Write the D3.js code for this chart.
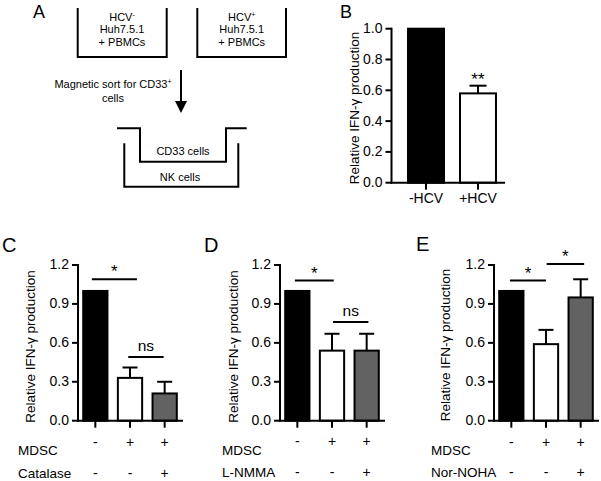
<!DOCTYPE html>
<html><head><meta charset="utf-8">
<script src="https://cdn.jsdelivr.net/npm/d3@7"></script>
<style>
body{margin:0;background:#fff}
svg{display:block}
text{font-family:"Liberation Sans",Arial,Helvetica,sans-serif;fill:#000}
</style>
</head><body>
<svg id="chart" width="601" height="481"></svg>
<script>
// ---------- Panel B data ----------
const bCategories = ["-HCV", "+HCV"];
const bValues = [1.0, 0.58];
const bErrors = [0, 0.05];
const bTicks = [0, 0.2, 0.4, 0.6, 0.8, 1.0];
const bStars = ["", "**"];
const bFills = ["#000", "#fff"];

// ---------- Panels C, D, E data ----------
const cdeCategories = ["control", "MDSC", "MDSC + inhibitor"];
const cdeTicks = [0, 0.3, 0.6, 0.9, 1.2];
const cdeFills = ["#000", "#fff", "#626262"];
const mdscRow = ["-", "+", "+"];

const cValues = [1.0, 0.33, 0.21];
const cErrors = [0, 0.08, 0.09];
const catalaseRow = ["-", "-", "+"];
const cSig = [{from: -0.1, to: 1.2, y: 1.09, label: "*"}, {from: 0.95, to: 1.97, y: 0.49, label: "ns"}];

const dValues = [1.0, 0.54, 0.54];
const dErrors = [0, 0.13, 0.13];
const lnmmaRow = ["-", "-", "+"];
const dSig = [{from: -0.07, to: 1.05, y: 1.08, label: "*"}, {from: 1.03, to: 2.05, y: 0.76, label: "ns"}];

const eValues = [1.0, 0.59, 0.95];
const eErrors = [0, 0.11, 0.14];
const norNohaRow = ["-", "-", "+"];
const eSig = [{from: -0.04, to: 1.0, y: 1.08, label: "*"}, {from: 1.02, to: 2.1, y: 1.208, label: "*"}];

const yLabel = "Relative IFN-\u03b3 production";

const svg = d3.select("#chart");
const FONT = 14;

function barPanel(cfg) {
  const g = svg.append("g");
  const y = d3.scaleLinear().domain([0, cfg.max]).range([cfg.bottom, cfg.top]);
  const x = d3.scaleBand().domain(cfg.cats).range([cfg.left, cfg.right])
    .paddingInner(cfg.pi).paddingOuter(cfg.po).align(cfg.align);
  const cx = c => x(c) + x.bandwidth() / 2;

  // bars
  g.selectAll("rect.bar").data(cfg.values).join("rect").attr("class", "bar")
    .attr("x", (d, i) => x(cfg.cats[i]))
    .attr("y", d => y(d))
    .attr("width", x.bandwidth())
    .attr("height", d => y(0) - y(d))
    .attr("fill", (d, i) => cfg.fills[i])
    .attr("stroke", "#000").attr("stroke-width", 2);

  // error bars (upper only)
  const eb = cfg.values.map((v, i) => ({v, e: cfg.errors[i], c: cfg.cats[i]})).filter(d => d.e > 0);
  g.selectAll("line.err").data(eb).join("line").attr("class", "err")
    .attr("x1", d => cx(d.c)).attr("x2", d => cx(d.c))
    .attr("y1", d => y(d.v)).attr("y2", d => y(d.v + d.e))
    .attr("stroke", "#000").attr("stroke-width", 2);
  g.selectAll("line.cap").data(eb).join("line").attr("class", "cap")
    .attr("x1", d => cx(d.c) - cfg.cap / 2).attr("x2", d => cx(d.c) + cfg.cap / 2)
    .attr("y1", d => y(d.v + d.e)).attr("y2", d => y(d.v + d.e))
    .attr("stroke", "#000").attr("stroke-width", 2);

  // y axis
  const yAxis = d3.axisLeft(y).tickValues(cfg.ticks).tickFormat(d3.format(".1f"))
    .tickSize(6).tickSizeOuter(0).tickPadding(3);
  if (yAxis.offset) yAxis.offset(0);
  const ya = g.append("g").attr("transform", `translate(${cfg.left},0)`).call(yAxis);
  ya.select(".domain").attr("stroke-width", 2).attr("stroke-linecap", "square");
  ya.selectAll(".tick line").attr("stroke-width", 2);
  ya.selectAll(".tick text").attr("font-size", FONT);
  ya.attr("font-family", null);

  // x axis
  const xAxis = d3.axisBottom(x).tickSize(7).tickSizeOuter(0).tickPadding(3.5)
    .tickFormat(cfg.xLabels ? (d => d) : (() => ""));
  if (xAxis.offset) xAxis.offset(0);
  const xa = g.append("g").attr("transform", `translate(0,${cfg.bottom})`).call(xAxis);
  xa.select(".domain").attr("stroke-width", 2).attr("stroke-linecap", "square");
  xa.selectAll(".tick line").attr("stroke-width", 2);
  xa.selectAll(".tick text").attr("font-size", FONT);
  xa.attr("font-family", null);

  // y label
  g.append("text")
    .attr("transform", `translate(${cfg.labelX},${cfg.labelY}) rotate(-90)`)
    .attr("text-anchor", "middle").attr("font-size", 13.5).text(yLabel);

  // significance lines
  if (cfg.sig) {
    const xi = d3.scaleLinear().domain([0, cfg.cats.length - 1])
      .range([cx(cfg.cats[0]), cx(cfg.cats[cfg.cats.length - 1])]);
    cfg.sig.forEach(s => {
      g.append("line").attr("x1", xi(s.from)).attr("x2", xi(s.to))
        .attr("y1", y(s.y)).attr("y2", y(s.y))
        .attr("stroke", "#000").attr("stroke-width", 2);
      const isStar = s.label.indexOf("*") >= 0;
      g.append("text").attr("x", (xi(s.from) + xi(s.to)) / 2)
        .attr("y", y(s.y) - (isStar ? 2 : 6))
        .attr("text-anchor", "middle").attr("font-size", isStar ? 17 : 15.5).text(s.label);
    });
  }
  // stars over bars
  if (cfg.stars) {
    g.selectAll("text.star").data(cfg.stars).join("text").attr("class", "star")
      .attr("x", (d, i) => cx(cfg.cats[i]))
      .attr("y", (d, i) => y(cfg.values[i] + cfg.errors[i]) - 1)
      .attr("text-anchor", "middle").attr("font-size", 17).text(d => d);
  }
  // treatment rows
  if (cfg.rows) {
    cfg.rows.forEach(r => {
      g.append("text").attr("x", cfg.rowLabelX).attr("y", r.labelY)
        .attr("font-size", 13.5).text(r.name);
      g.selectAll(null).data(r.signs).join("text")
        .attr("x", (d, i) => cx(cfg.cats[i])).attr("y", r.signY)
        .attr("text-anchor", "middle").attr("font-size", 14).text(d => d);
    });
  }
  return g;
}

// Panel B
barPanel({cats: bCategories, values: bValues, errors: bErrors, fills: bFills, ticks: bTicks,
  max: 1.0, top: 28.7, bottom: 182.7, left: 391.5, right: 504,
  pi: 0.308, po: 0.236, align: 0.673, cap: 17, xLabels: true,
  labelX: 359, labelY: 108, stars: bStars});

// Panel C
barPanel({cats: cdeCategories, values: cValues, errors: cErrors, fills: cdeFills, ticks: cdeTicks,
  max: 1.2, top: 265, bottom: 420.7, left: 78, right: 182,
  pi: 0.3, po: 0.15, align: 0.5, cap: 15, labelX: 35, labelY: 346.5, sig: cSig,
  rowLabelX: 18, rows: [{name: "MDSC", signs: mdscRow, labelY: 455, signY: 447},
                        {name: "Catalase", signs: catalaseRow, labelY: 478, signY: 477.5}]});

// Panel D
barPanel({cats: cdeCategories, values: dValues, errors: dErrors, fills: cdeFills, ticks: cdeTicks,
  max: 1.2, top: 265, bottom: 420.7, left: 280, right: 384,
  pi: 0.3, po: 0.15, align: 0.5, cap: 15, labelX: 238, labelY: 346.5, sig: dSig,
  rowLabelX: 222, rows: [{name: "MDSC", signs: mdscRow, labelY: 454.5, signY: 446},
                         {name: "L-NMMA", signs: lnmmaRow, labelY: 477, signY: 477}]});

// Panel E
barPanel({cats: cdeCategories, values: eValues, errors: eErrors, fills: cdeFills, ticks: cdeTicks,
  max: 1.2, top: 265, bottom: 420.7, left: 494, right: 598,
  pi: 0.3, po: 0.15, align: 0.5, cap: 15, labelX: 450, labelY: 345, sig: eSig,
  rowLabelX: 431, rows: [{name: "MDSC", signs: mdscRow, labelY: 455, signY: 447},
                         {name: "Nor-NOHA", signs: norNohaRow, labelY: 477, signY: 477}]});

// ---------- Panel A (schematic) ----------
const a = svg.append("g").attr("fill", "none");
const stroke = sel => sel.attr("stroke", "#000").attr("stroke-width", 2).attr("fill", "none");
const line = d3.line();
a.append("path").attr("d", line([[77.7, 8], [77.7, 57], [166.7, 57], [166.7, 8]])).call(stroke);
a.append("path").attr("d", line([[197.3, 8], [197.3, 57], [286, 57], [286, 8]])).call(stroke);
a.append("path").attr("d", line([[117, 128.3], [140, 128.3], [140, 161.7], [226, 161.7], [226, 128.3], [246.7, 128.3]])).call(stroke);
a.append("path").attr("d", line([[124.3, 143.3], [124.3, 186.7], [238.3, 186.7], [238.3, 143.3]])).call(stroke);
a.append("line").attr("x1", 181).attr("x2", 181).attr("y1", 70).attr("y2", 103).call(stroke);
a.append("path").attr("d", "M175,101 L187,101 L181,113 Z").attr("fill", "#000");

function beakerText(cx, sup) {
  const t1 = svg.append("text").attr("x", cx).attr("y", 20.7).attr("text-anchor", "middle").attr("font-size", 11);
  t1.append("tspan").text("HCV");
  t1.append("tspan").attr("font-size", 7).attr("dy", -4).text(sup);
  svg.append("text").attr("x", cx).attr("y", 33.3).attr("text-anchor", "middle").attr("font-size", 11).text("Huh7.5.1");
  svg.append("text").attr("x", cx).attr("y", 45.7).attr("text-anchor", "middle").attr("font-size", 11).text("+ PBMCs");
}
beakerText(122, "-");
beakerText(241.7, "+");
const mt = svg.append("text").attr("x", 113).attr("y", 88.3).attr("text-anchor", "middle").attr("font-size", 11);
mt.append("tspan").text("Magnetic sort for CD33");
mt.append("tspan").attr("font-size", 7).attr("dy", -4).text("+");
svg.append("text").attr("x", 113).attr("y", 101.7).attr("text-anchor", "middle").attr("font-size", 11).text("cells");
svg.append("text").attr("x", 183).attr("y", 155).attr("text-anchor", "middle").attr("font-size", 11).text("CD33 cells");
svg.append("text").attr("x", 180).attr("y", 181).attr("text-anchor", "middle").attr("font-size", 11).text("NK cells");

// ---------- Panel letters ----------
const letters = [["A", 33, 18.3, 18], ["B", 340, 18.3, 18], ["C", 2, 252, 20], ["D", 204, 252, 20], ["E", 416, 250.7, 20]];
svg.selectAll("text.letter").data(letters).join("text").attr("class", "letter")
  .attr("x", d => d[1]).attr("y", d => d[2]).attr("font-size", d => d[3]).text(d => d[0]);
</script>
</body></html>
